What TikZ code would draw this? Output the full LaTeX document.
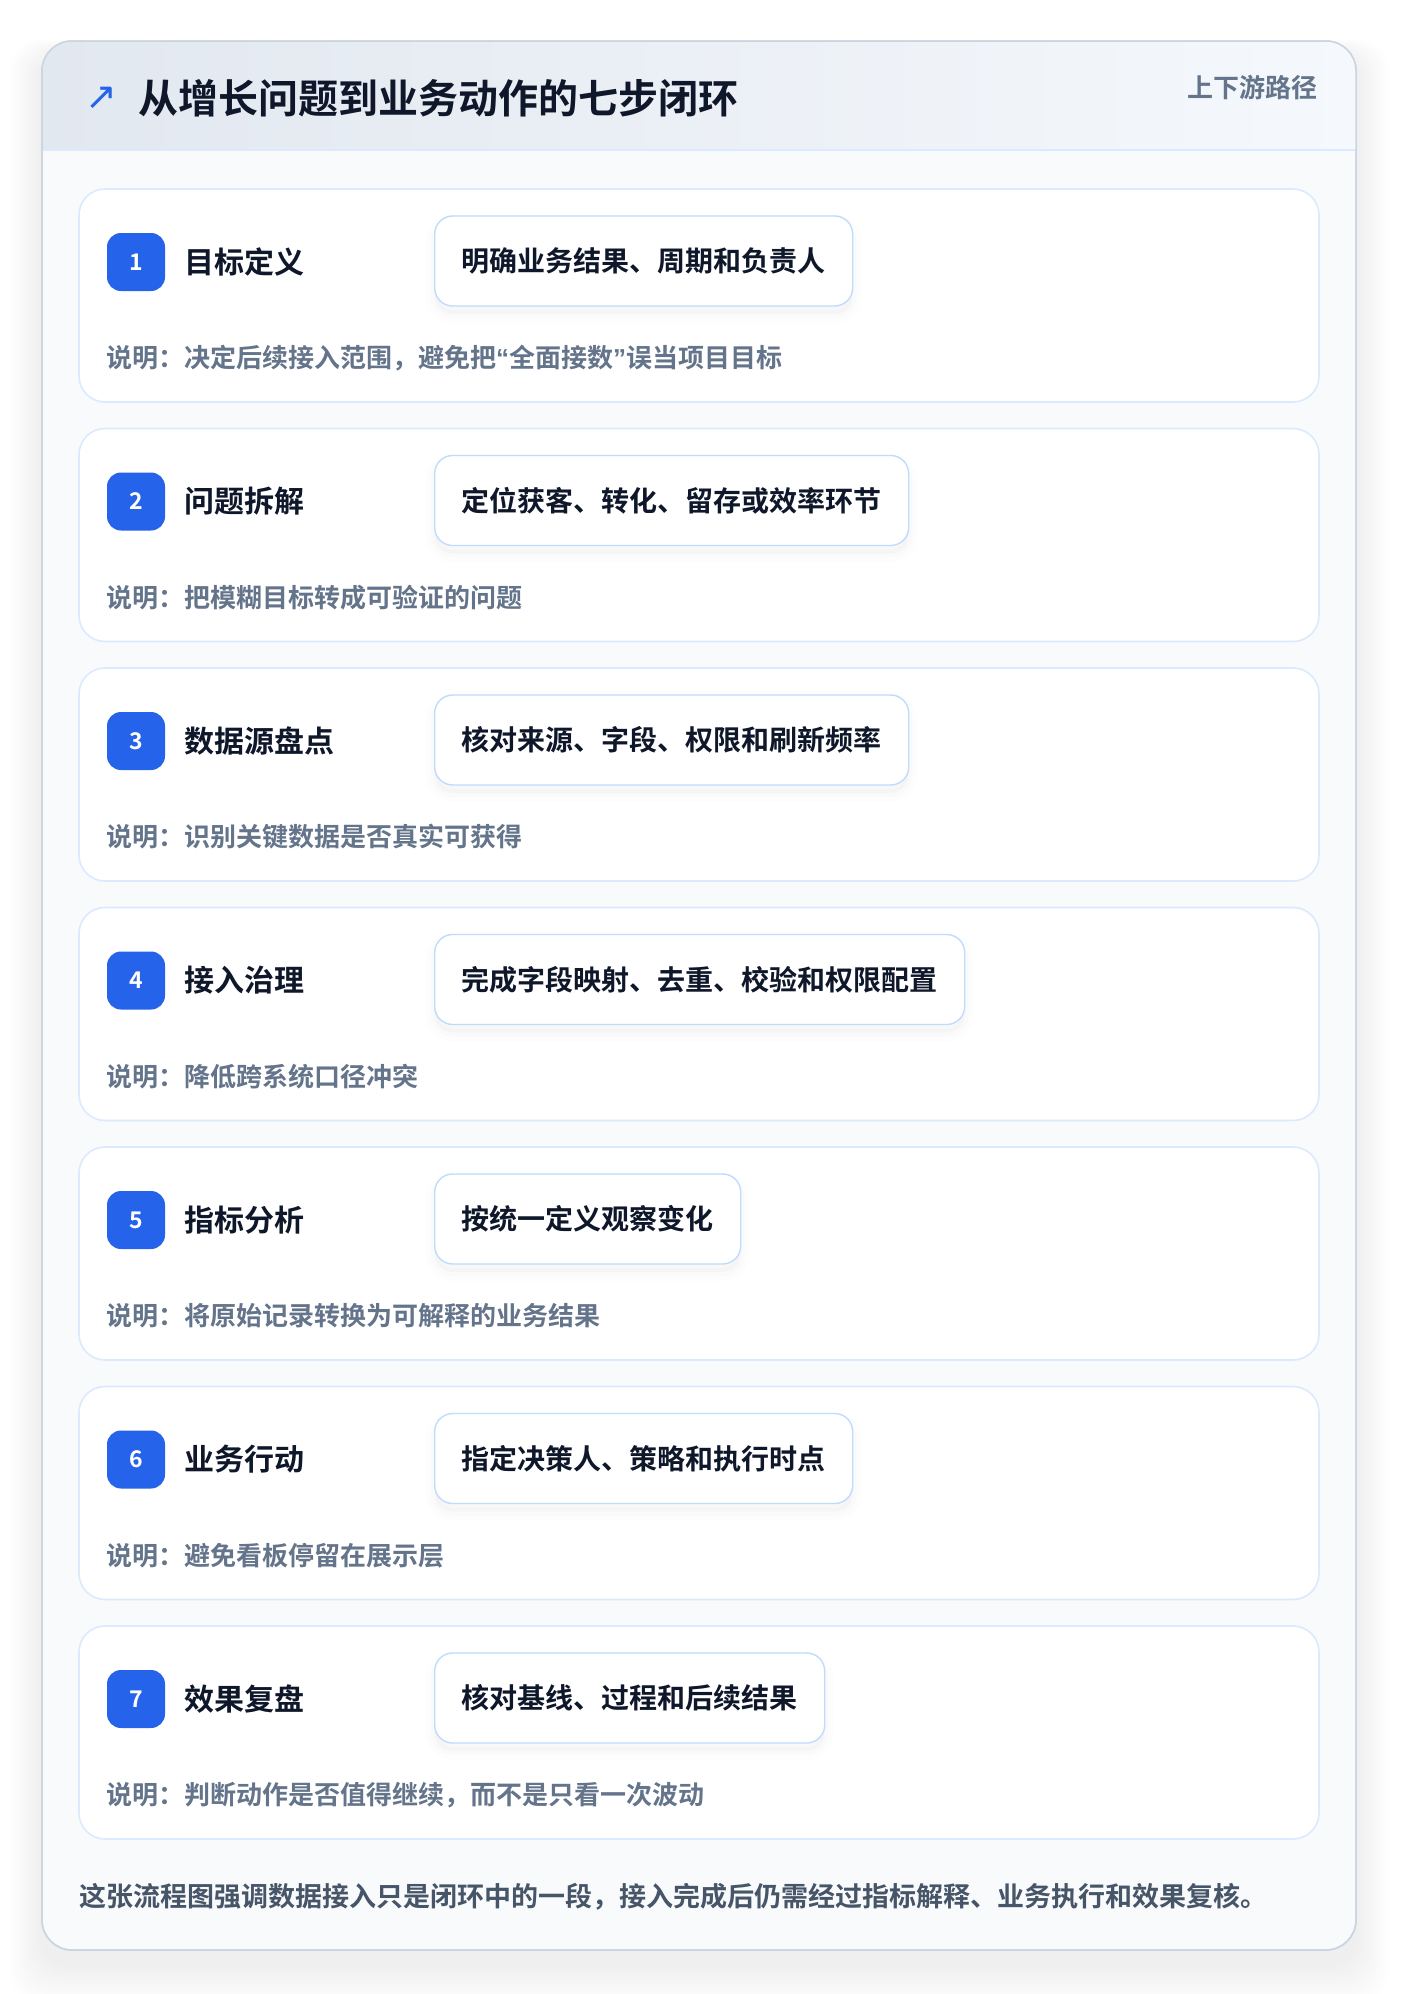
\documentclass[tikz,border=0pt]{standalone}
\usepackage{fontspec}
\setmainfont{Noto Sans CJK SC}[BoldFont={* Bold}]
\newfontfamily\symfont{DejaVu Sans}
\newfontfamily\quotefont{Liberation Sans}
\usetikzlibrary{positioning}
\definecolor{brandblue}{HTML}{2563EB}
\definecolor{inkdark}{HTML}{0F172A}
\definecolor{inkgray}{HTML}{64748B}
\definecolor{inkslate}{HTML}{475569}
\definecolor{edgeblue}{HTML}{DBEAFE}
\definecolor{pillblue}{HTML}{BFDBFE}
\definecolor{panelbg}{HTML}{F8FAFC}
\definecolor{headleft}{HTML}{E2E8F0}
\definecolor{headright}{HTML}{F5F8FC}
\definecolor{frameline}{HTML}{CBD5E1}
\newcommand\openq{{\quotefont\bfseries “}}
\newcommand\closeq{{\quotefont\bfseries ”}}
\begin{document}
\begin{tikzpicture}[x=1pt,y=-1pt,
    stepcard/.style={draw=edgeblue,line width=1.6pt,fill=white,rounded corners=26pt},
    badge/.style={fill=brandblue,text=white,rounded corners=14pt,minimum width=58pt,
        minimum height=58pt,inner sep=0pt,font=\fontsize{23}{26}\selectfont\bfseries},
    steptitle/.style={inner sep=0pt,text=inkdark,font=\fontsize{30}{34}\selectfont\bfseries},
    pillshade/.style={
        preaction={fill=black,fill opacity=0.02,transform canvas={yshift=-8pt}},
        preaction={draw=black,draw opacity=0.012,line width=8pt,transform canvas={yshift=-8pt}},
        preaction={draw=black,draw opacity=0.008,line width=18pt,transform canvas={yshift=-8pt}}},
    pill/.style={pillshade,draw=pillblue,line width=1.4pt,fill=white,rounded corners=18pt,
        minimum height=90pt,inner xsep=27pt,anchor=west,text=inkdark,
        font=\fontsize{28}{32}\selectfont\bfseries},
    note/.style={inner sep=0pt,anchor=west,text=inkgray,font=\fontsize{26}{30}\selectfont\bfseries}]
\useasboundingbox[fill=white] (0,0) rectangle (1400,1994);
% soft shadow under the frame
\foreach \s in {1,...,16}
    \fill[black,opacity=0.003,rounded corners=30pt] (42-\s*2,41-\s*1+14) rectangle (1356+\s*2,1950+\s*2.5+14);
\draw[fill=panelbg,draw=frameline,line width=1.5pt,rounded corners=30pt] (42,41) rectangle (1356,1950);
\begin{scope}
    \clip[rounded corners=30pt] (42,41) rectangle (1356,1950);
    \shade[left color=headleft,right color=headright] (42,41) rectangle (1356,150);
    \draw[edgeblue,line width=2pt] (42,150) -- (1356,150);
\end{scope}
\draw[frameline,line width=1.5pt,rounded corners=30pt] (42,41) rectangle (1356,1950);
% header
\node[anchor=west,inner sep=0pt,text=inkdark,font=\fontsize{40}{46}\selectfont\bfseries] (heading) at (138,98) {从增长问题到业务动作的七步闭环};
\node[inner sep=0pt,text=brandblue,font=\symfont\fontsize{38}{38}\selectfont,left=20pt of heading] (arrowicon) {↗};
\node[anchor=east,inner sep=0pt,text=inkgray,font=\fontsize{26}{30}\selectfont\bfseries] (pathlabel) at (1318,88) {上下游路径};
% seven steps
\foreach \k/\name/\task/\why in {
    1/目标定义/明确业务结果、周期和负责人/决定后续接入范围，避免把\openq 全面接数\closeq 误当项目目标,
    2/问题拆解/定位获客、转化、留存或效率环节/把模糊目标转成可验证的问题,
    3/数据源盘点/核对来源、字段、权限和刷新频率/识别关键数据是否真实可获得,
    4/接入治理/完成字段映射、去重、校验和权限配置/降低跨系统口径冲突,
    5/指标分析/按统一定义观察变化/将原始记录转换为可解释的业务结果,
    6/业务行动/指定决策人、策略和执行时点/避免看板停留在展示层,
    7/效果复盘/核对基线、过程和后续结果/判断动作是否值得继续，而不是只看一次波动}
{
    \pgfmathsetmacro\cardtop{189+239.5*(\k-1)}
    \draw[stepcard] (79,\cardtop) rectangle (1319,\cardtop+213);
    \node[badge] (badge\k) at (136,\cardtop+73) {\k};
    \node[steptitle,right=19pt of badge\k] (title\k) {\name};
    \node[pill] (task\k) at (434,\cardtop+72) {\task};
    \node[note] (why\k) at (106,\cardtop+169) {说明：\why};
}
\node[anchor=west,inner sep=0pt,text=inkslate,font=\fontsize{27}{32}\selectfont\bfseries] (summary) at (79,1897) {这张流程图强调数据接入只是闭环中的一段，接入完成后仍需经过指标解释、业务执行和效果复核。};
\end{tikzpicture}
\end{document}
